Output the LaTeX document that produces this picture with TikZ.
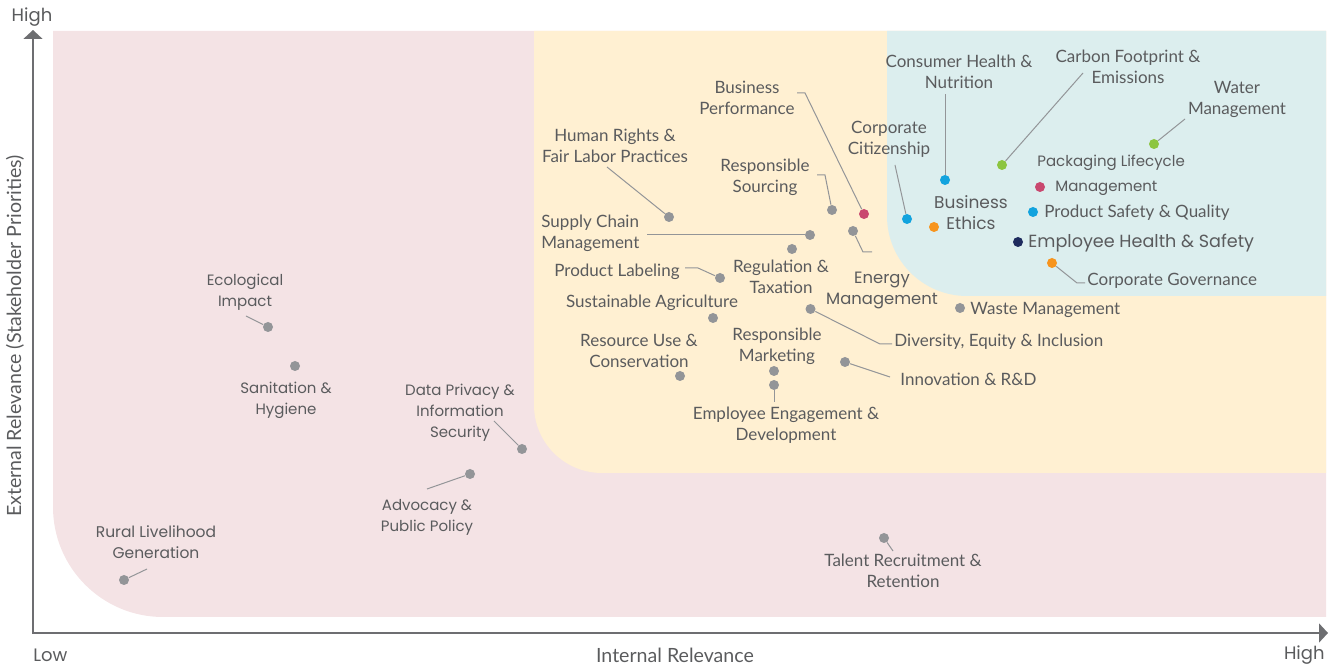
\documentclass[tikz,border=0pt]{standalone}
\usepackage{fontspec}
\setmainfont{Lato}
\newfontfamily\widefont{Poppins}
\usetikzlibrary{arrows.meta}

\definecolor{pinkbg}{HTML}{F4E3E5}
\definecolor{yellowbg}{HTML}{FFF0D2}
\definecolor{tealbg}{HTML}{DCEEEE}
\definecolor{txt}{HTML}{5A5B5D}
\definecolor{dotgray}{HTML}{939598}
\definecolor{axisgray}{HTML}{6D6E71}
\definecolor{dpink}{HTML}{C9486F}
\definecolor{dblue}{HTML}{12A3DE}
\definecolor{dgreen}{HTML}{8CC540}
\definecolor{dorange}{HTML}{F7941D}
\definecolor{dnavy}{HTML}{1E2B5E}

\begin{document}
\begin{tikzpicture}[x=0.5pt,y=-0.5pt,
  lbl/.style={text=txt,font=\fontsize{8.5}{10.5}\selectfont,inner sep=0pt,align=center},
  wlbl/.style={lbl,font=\widefont\fontsize{7.5}{10.5}\selectfont},
  mdot/.style={circle,fill=#1,inner sep=0pt,minimum size=5pt},
  lead/.style={draw=dotgray,line width=0.5pt},
  axis/.style={draw=axisgray,line width=0.8pt}]
\useasboundingbox (0,0) rectangle (1340,667);

\fill[pinkbg] (53,31) -- (53,507) arc[start angle=180,end angle=90,radius=110] -- (1326,617) -- (1326,31) -- cycle;
\fill[yellowbg] (534,31) -- (534,405) arc[start angle=180,end angle=90,radius=68] -- (1326,473) -- (1326,31) -- cycle;
\fill[tealbg] (887,31) -- (887,216) arc[start angle=180,end angle=90,radius=80] -- (1326,296) -- (1326,31) -- cycle;

\coordinate (o) at (33,633);
\coordinate (ytop) at (33,30);
\coordinate (xend) at (1328,633);
\draw[axis,{Triangle[width=9.5pt,length=4.5pt]}-{Triangle[width=9.5pt,length=4.5pt]}] (ytop) -- (o) -- (xend);
\node[lbl,font=\widefont\fontsize{9}{10}\selectfont] (yhigh) at (32,17) {High};
\node[lbl,font=\widefont\fontsize{9}{10}\selectfont,anchor=west] (xlow) at (33,655) {Low};
\node[lbl,font=\widefont\fontsize{9}{10}\selectfont,anchor=east] (xhigh) at (1325,655) {High};
\node[lbl,font=\fontsize{9.8}{10}\selectfont] (xtitle) at (675,655) {Internal Relevance};
\node[lbl,font=\fontsize{9.8}{10}\selectfont,rotate=90] (ytitle) at (15,336) {External Relevance (Stakeholder Priorities)};

\foreach \n/\x/\y in {bprf1/805/93, bprf2/797/93, humr1/607/167, rsrc1/825/175, rsrc2/817/175,
  supc1/647/235, enrg1/863/252, enrg2/872/252, plab1/698/268, plab2/685/268, divr1/880/344,
  divr2/892/344, innv1/890/377, emen1/774/402, cons1/945/94, carb1/1083/73, watr1/1185/119,
  citz1/895/165, govn1/1077/283, govn2/1085/283, ecol1/246/316, dpri1/494/421, advo1/427/489,
  rurl1/147/569, tlnt1/893/551}
  \coordinate (\n) at (\x,\y);

\foreach \n/\x/\y/\c in {humr/669/217/dotgray, rsrc/832/210/dotgray, supc/810/235/dotgray,
  enrg/853/231/dotgray, regt/792/249/dotgray, plab/720/278/dotgray, sagr/713/318/dotgray,
  divr/810.5/309/dotgray, wast/960/308/dotgray, resu/680/376/dotgray, rmkt/774/371/dotgray,
  emen/774/385/dotgray, innv/845/362/dotgray, ecol/268/327/dotgray, sani/295/366/dotgray,
  dpri/522/449/dotgray, advo/470/474/dotgray, rurl/124/580/dotgray, tlnt/884/538/dotgray,
  bprf/864/214/dpink, pack/1040/187/dpink, cons/945/180/dblue, citz/907/219/dblue,
  psaf/1033/212/dblue, carb/1002/165/dgreen, watr/1154/144/dgreen, ethc/934/227/dorange,
  govn/1052/263/dorange, ehs/1018/242/dnavy}
  \node[mdot=\c] (\n) at (\x,\y) {};

\foreach \n in {humr,supc,innv,emen,cons,carb,watr,citz,ecol,dpri,advo,rurl,tlnt}
  \draw[lead] (\n) -- (\n1);
\foreach \n in {bprf,rsrc,enrg,plab,divr,govn}
  \draw[lead] (\n) -- (\n1) -- (\n2);

\node[lbl] (l-bprf) at (747,97.5) {Business\\Performance};
\node[lbl] (l-humr) at (615,146) {Human Rights \&\\Fair Labor Practices};
\node[lbl] (l-rsrc) at (765,177.5) {Responsible\\Sourcing};
\node[lbl,align=left,anchor=west] (l-supc) at (541,233.5) {Supply Chain\\Management};
\node[lbl,anchor=east] (l-plab) at (680,272) {Product Labeling};
\node[lbl] (l-regt) at (781,276.5) {Regulation \&\\Taxation};
\node[wlbl,font=\widefont\fontsize{8.2}{10.5}\selectfont] (l-enrg) at (882,290.5) {Energy\\Management};
\node[lbl] (l-sagr) at (652,303) {Sustainable Agriculture};
\node[lbl] (l-resu) at (639,351) {Resource Use \&\\Conservation};
\node[lbl] (l-rmkt) at (777,346.5) {Responsible\\Marketing};
\node[lbl] (l-emen) at (786,425.5) {Employee Engagement \&\\Development};
\node[lbl,anchor=west] (l-innv) at (900,379) {Innovation \& R\&D};
\node[lbl,anchor=west] (l-divr) at (894,342) {Diversity, Equity \& Inclusion};
\node[lbl,anchor=west] (l-wast) at (970,310) {Waste Management};
\node[lbl] (l-cons) at (959,71.5) {Consumer Health \&\\Nutrition};
\node[lbl] (l-carb) at (1128,66.5) {Carbon Footprint \&\\Emissions};
\node[lbl] (l-watr) at (1237,99.5) {Water\\Management};
\node[lbl] (l-citz) at (889,139.5) {Corporate\\Citizenship};
\node[wlbl,font=\widefont\fontsize{8.5}{10.5}\selectfont] (l-ethc) at (971,212.5) {Business\\Ethics};
\node[wlbl,align=left,anchor=north west] (l-pack) at (1037,155) {Packaging Lifecycle\\[2pt]\hspace*{9pt}Management};
\node[lbl,anchor=west] (l-psaf) at (1044,213) {Product Safety \& Quality};
\node[wlbl,font=\widefont\fontsize{8.8}{10.5}\selectfont,anchor=west] (l-ehs) at (1028,243) {Employee Health \& Safety};
\node[lbl,anchor=west] (l-govn) at (1087,281) {Corporate Governance};
\node[wlbl] (l-ecol) at (245,292.5) {Ecological\\Impact};
\node[wlbl] (l-sani) at (286,400.5) {Sanitation \&\\Hygiene};
\node[wlbl] (l-dpri) at (460,413) {Data Privacy \&\\Information\\Security};
\node[wlbl] (l-advo) at (427,517) {Advocacy \&\\Public Policy};
\node[wlbl,font=\widefont\fontsize{7.75}{10.5}\selectfont] (l-rurl) at (156,542) {Rural Livelihood\\Generation};
\node[lbl] (l-tlnt) at (903,571) {Talent Recruitment \&\\Retention};
\end{tikzpicture}
\end{document}
